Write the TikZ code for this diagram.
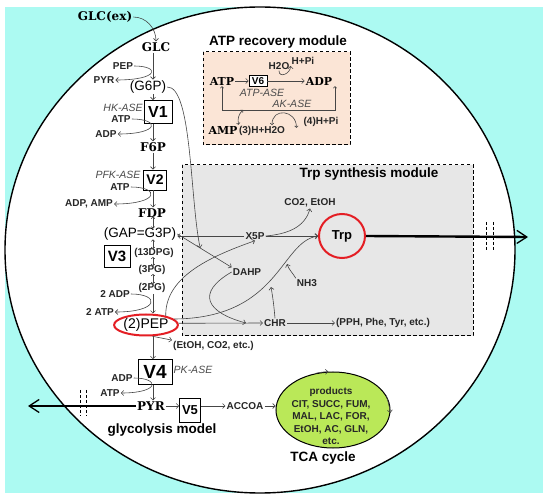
\documentclass[tikz,border=0pt]{standalone}
\usepackage{fontspec}
\setmainfont{Liberation Sans}
\newfontfamily\slabfont{DejaVu Serif}
\usetikzlibrary{arrows.meta, shapes.geometric, calc, positioning}
\definecolor{cellbg}{RGB}{172,250,242}
\definecolor{atpbg}{RGB}{251,229,214}
\definecolor{trpbg}{RGB}{231,231,231}
\definecolor{tcagreen}{RGB}{186,232,88}
\definecolor{markred}{RGB}{228,30,36}
\definecolor{linegray}{RGB}{70,70,70}
\definecolor{enzgray}{RGB}{75,75,75}
\tikzset{
  smalltext/.style={font=\fontsize{10}{12}\selectfont\bfseries, text=black!85, inner sep=1pt},
  enztext/.style={font=\fontsize{10.5}{12}\selectfont\itshape, text=enzgray, inner sep=1pt},
  bigtext/.style={font=\fontsize{13.5}{15}\selectfont, inner sep=1pt}
}
\tikzset{
  metext/.style={font=\fontsize{12}{14}\selectfont\slabfont\bfseries, inner sep=1pt},
  modtext/.style={font=\fontsize{11}{13}\selectfont\slabfont\bfseries, inner sep=1pt},
  titletext/.style={font=\fontsize{13.5}{16}\selectfont\bfseries, inner sep=1pt}
}
\tikzset{
  vbox/.style={draw, line width=0.8pt, fill=white, inner sep=0pt, font=\bfseries},
  flow/.style={draw=linegray, line width=0.6pt, -{Straight Barb[length=2.5pt,width=5pt]}},
  twoway/.style={flow, {Straight Barb[length=1.6pt,width=3.5pt]}-{Straight Barb[length=1.6pt,width=3.5pt]}},
  chainpair/.style={twoway, shorten <=-2pt, shorten >=-2pt},
  thickflow/.style={line width=2.4pt, -{Straight Barb[length=10pt,width=13pt,line width=1.3pt]}},
  dashmark/.style={dash pattern=on 3pt off 2pt, line width=0.9pt},
  modulebox/.style={dash pattern=on 3.5pt off 2.5pt, line width=1pt}
}

\begin{document}
\begin{tikzpicture}[x=1pt, y=-1pt]
  \useasboundingbox (0,0) rectangle (550,500);
  \fill[cellbg] (5,7) rectangle (543,493);
  \draw[line width=1.4pt, fill=white] (260,250) ellipse [x radius=255pt, y radius=243pt];
  % modules
  \draw[modulebox, fill=atpbg] (203,52) rectangle (350,145);
  \node[titletext] (atptitle) at (278,42) {ATP recovery module};
  \draw[modulebox, fill=trpbg] (182,165) rectangle (473,336);
  \node[titletext] (trptitle) at (369,174) {Trp synthesis module};

  % glycolysis chain
  \coordinate (ax) at (153,0);
  \node[metext] (glcex) at (105,17) {GLC(ex)};
  \node[metext] (glc) at (156,47) {GLC};
  \node[smalltext] (pep0) at (123,66) {PEP};
  \node[smalltext] (pyr0) at (104,80) {PYR};
  \node[bigtext] (g6p) at (148,87) {(G6P)};
  \node[vbox, minimum width=28pt, minimum height=23pt, font=\fontsize{16}{18}\selectfont\bfseries] (v1) at (158,112) {V1};
  \node[enztext] (hkase) at (123,108) {HK-ASE};
  \node[smalltext] (atp1) at (121,119) {ATP};
  \node[smalltext] (adp1) at (106,134) {ADP};
  \node[metext] (f6p) at (153,147) {F6P};
  \node[enztext] (pfkase) at (118,175) {PFK-ASE};
  \node[vbox, minimum width=23pt, minimum height=20pt, font=\fontsize{14}{16}\selectfont\bfseries] (v2) at (155,180) {V2};
  \node[smalltext] (atp2) at (120,187) {ATP};
  \node[smalltext] (adpamp) at (89,204) {ADP, AMP};
  \node[metext] (fdp) at (152,213) {FDP};
  \node[bigtext] (gap) at (140,234) {(GAP=G3P)};
  \node[vbox, minimum width=26pt, minimum height=22pt, font=\fontsize{15}{17}\selectfont\bfseries] (v3) at (117,256) {V3};
  \node[smalltext] (dpg13) at (154,253) {(13DPG)};
  \node[smalltext] (pg3) at (152,270) {(3PG)};
  \node[smalltext] (pg2) at (152,288) {(2PG)};
  \node[smalltext] (adp2) at (115,294) {2 ADP};
  \node[smalltext] (atp3) at (100,312) {2 ATP};
  \node[ellipse, draw=markred, line width=2pt, minimum width=60pt, minimum height=21pt, inner sep=0pt, font=\fontsize{14}{16}\selectfont] (pep) at (146,325) {(2)PEP};
  \node[smalltext, anchor=west] (etoh) at (172,346) {(EtOH, CO2, etc.)};
  \node[vbox, minimum width=34pt, minimum height=25pt, font=\fontsize{19}{21}\selectfont\bfseries] (v4) at (155,372) {V4};
  \node[enztext] (pkase) at (193,370) {PK-ASE};
  \node[smalltext] (adp4) at (122,378) {ADP};
  \node[smalltext] (atp4) at (110,393) {ATP};
  \node[metext] (pyr) at (151,406) {PYR};
  \node[vbox, minimum width=21pt, minimum height=24pt, font=\fontsize{13}{15}\selectfont\bfseries] (v5) at (190,410) {V5};
  \node[smalltext] (accoa) at (245,406) {ACCOA};
  \node[titletext] (glylabel) at (162,430) {glycolysis model};

  % TCA cycle
  \node[ellipse, draw, line width=1pt, fill=tcagreen, minimum width=114pt, minimum height=76pt] (tca) at (333,410) {};
  \node[smalltext, align=center, font=\fontsize{10}{12.5}\selectfont\bfseries] (tcaprod) at (331,416) {products\\CIT, SUCC, FUM,\\MAL, LAC, FOR,\\EtOH, AC, GLN,\\etc.};
  \node[titletext] (tcalabel) at (323,458) {TCA cycle};

  % ATP recovery module
  \node[modtext] (atpm) at (222,81) {ATP};
  \node[vbox, minimum width=18pt, minimum height=11pt, font=\fontsize{10}{12}\selectfont\bfseries] (v6) at (258,81) {V6};
  \node[modtext] (adpm) at (319,81) {ADP};
  \node[smalltext] (h2o) at (279,66) {H2O};
  \node[smalltext] (hpi) at (303,61) {H+Pi};
  \node[enztext] (atpase) at (262,93) {ATP-ASE};
  \node[enztext] (akase) at (292,104) {AK-ASE};
  \node[modtext] (ampm) at (223,130) {AMP};
  \node[smalltext] (h3) at (262,131) {(3)H+H2O};
  \node[smalltext] (h4) at (321,122) {(4)H+Pi};
  \coordinate (akl) at (222,110);
  \coordinate (akr) at (335,110);
  \coordinate (akamp) at (243,110);

  % Trp synthesis module
  \node[smalltext] (co2) at (310,203) {CO2, EtOH};
  \node[smalltext] (x5p) at (255,236) {X5P};
  \node[ellipse, draw=markred, line width=2pt, minimum width=46pt, minimum height=44pt, inner sep=0pt, font=\fontsize{13}{15}\selectfont\bfseries] (trp) at (342,236) {Trp};
  \node[smalltext] (dahp) at (247,272) {DAHP};
  \node[smalltext] (nh3) at (307,283) {NH3};
  \node[smalltext] (chr) at (275,323) {CHR};
  \node[smalltext] (pph) at (383,323) {(PPH, Phe, Tyr, etc.)};
  \coordinate (e4p) at ($(gap.east)!0.42!(dahp.north west)$);
  \coordinate (chrjoin) at (271,287);
  \coordinate (nh3join) at (287,264);
  \path (chr.west) ++(-17,0) coordinate (chrin);
  \coordinate (pyrout) at (28,406);
  \coordinate (trpout) at (528,237);

  % main glycolysis flow
  \draw[flow] (glcex.east) to[out=0,in=90] (glc.north);
  \draw[flow] (glc.south -| ax) -- (g6p.north -| ax);
  \draw[flow] (g6p.south -| ax) -- (v1.north -| ax);
  \draw[flow] (v1.south -| ax) -- (f6p.north -| ax);
  \draw[flow] (f6p.south -| ax) -- (v2.north -| ax);
  \draw[flow] (v2.south -| ax) -- (fdp.north -| ax);
  \draw[chainpair] (fdp.south -| ax) -- (gap.north -| ax);
  \draw[chainpair] (gap.south -| ax) -- (dpg13.north -| ax);
  \draw[chainpair] (dpg13.south -| ax) -- (pg3.north -| ax);
  \draw[chainpair] (pg3.south -| ax) -- (pg2.north -| ax);
  \draw[flow] (pg2.south -| ax) -- (pep.north -| ax);
  \draw[flow] (pep.south -| ax) -- (v4.north -| ax);
  \draw[flow] (v4.south -| ax) -- (pyr.north -| ax);
  % cofactors on the chain
  \draw[flow] (pep0.east) .. controls ($(ax |- pep0.east)+(7,0)$) and ($(ax |- pyr0.east)+(7,0)$) .. (pyr0.east);
  \draw[flow] (atp1.east) .. controls ($(ax |- atp1.east)+(7,0)$) and ($(ax |- adp1.east)+(7,0)$) .. (adp1.east);
  \draw[flow] (atp2.east) .. controls ($(ax |- atp2.east)+(7,0)$) and ($(ax |- adpamp.east)+(7,0)$) .. (adpamp.east);
  \draw[flow] (adp2.east) .. controls ($(ax |- adp2.east)+(7,0)$) and ($(ax |- atp3.east)+(7,0)$) .. (atp3.east);
  \draw[flow] (adp4.east) .. controls ($(ax |- adp4.east)+(7,0)$) and ($(ax |- atp4.east)+(7,0)$) .. (atp4.east);
  \draw[flow] (pep.-60) -- (etoh.north west);
  % PYR to ACCOA and TCA
  \draw[flow] (pyr.east) -- (v5.west |- pyr.east);
  \draw[flow] (v5.east |- pyr.east) -- (accoa.west);
  \draw[flow] (accoa.east) -- (tca.west |- accoa.east);
  \draw[flow] (tca.115) to[bend left=4] (tca.97);
  \draw[flow] (tca.15) to[bend left=4] (tca.-3);
  % PYR out of the cell
  \draw[thickflow] (pyr.west) -- (pyrout);
  \draw[dashmark] (80,390) -- (80,416) (86,390) -- (86,416);

  % ATP recovery
  \draw[flow] (atpm.east) -- (v6.west);
  \draw[flow] (v6.east) -- (adpm.west);
  \draw[flow] (h2o.south) to[out=-90,in=-90,looseness=1.6] (hpi.south west);
  \draw[twoway] (atpm.south) -- (akl) -- (akr) -- (akr |- adpm.south);
  \draw[twoway] (ampm.north east) to[bend left=30] (akamp);
  \draw[twoway] ([xshift=10pt]h3.north) .. controls +(0,-18) and +(0,-18) .. ([xshift=-6pt]h4.south west);

  % Trp synthesis
  \draw[flow] (x5p.west) -- (x5p.west -| gap.east);
  \draw[flow] (gap.east) -- (dahp.north west);
  \draw[flow] (g6p.east) .. controls (192,86) and (190,200) .. (e4p);
  \draw[flow] (pep.25) .. controls (165,275) and (215,255) .. (x5p.south);
  \draw[flow] (x5p.east) -- (trp.west);
  \draw[flow] (x5p.east) to[out=5,in=-105] (co2.south);
  \draw[flow] (pep.12) .. controls (280,318) and (280,242) .. (trp.west);
  \draw[flow] (pep.3) -- (chr.west);
  \draw[flow] (dahp.west) to[out=210,in=165,looseness=2] (chrin);
  \draw[flow] (chr.north) to[out=95,in=-80] (chrjoin);
  \draw[flow] (nh3.north west) to[out=120,in=-70] (nh3join);
  \draw[flow] (chr.east) -- (pph.west);
  % Trp out of the cell
  \draw[thickflow] (trp.east) -- (trpout);
  \draw[dashmark] (486,222) -- (486,251) (493,222) -- (493,251);
\end{tikzpicture}
\end{document}
